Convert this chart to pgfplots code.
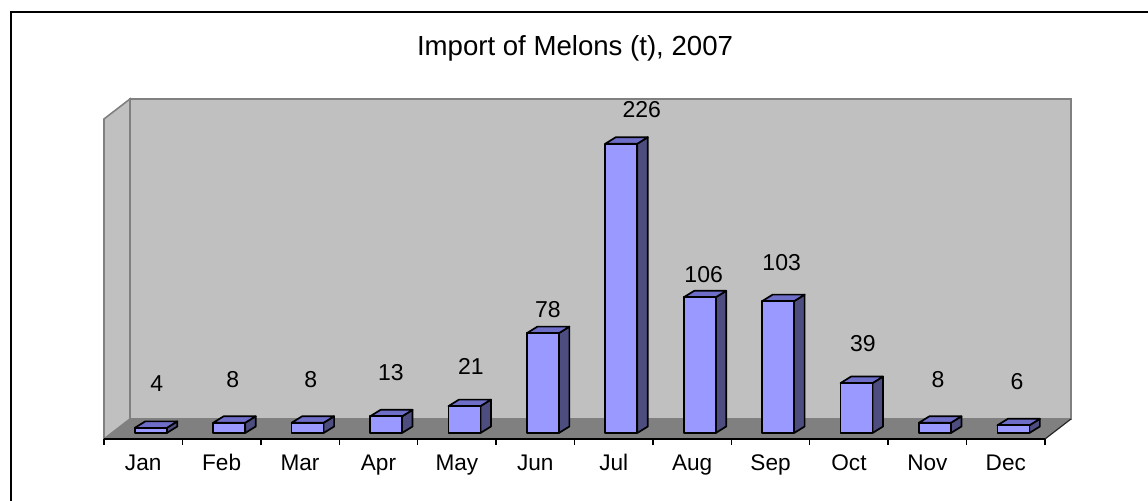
\documentclass[border=0pt]{standalone}
\usepackage{fontspec}
\setmainfont{Liberation Sans}
\usepackage{pgfplots}
\usepackage{pgfplotstable}
\pgfplotsset{compat=1.18}

\definecolor{barfront}{RGB}{153,153,255}
\definecolor{bartop}{RGB}{110,110,200}
\definecolor{barside}{RGB}{77,77,128}
\definecolor{wall}{RGB}{192,192,192}
\definecolor{walledge}{RGB}{128,128,128}
\definecolor{floorc}{RGB}{128,128,128}

% month, tonnes, where the value label sits
\pgfplotstableread{
m  v    lx     ly
1  4    1.172  43.0
2  8    2.141  46.1
3  8    3.136  46.1
4  13   4.160  51.6
5  21   5.180  57.0
6  78   6.162  100.8
7  226  7.357  257.0
8  106  8.147  128.1
9  103  9.142  137.5
10 39   10.179 74.2
11 8    11.135 46.1
12 6    12.142 44.5
}\melons

% box drawn from the top of the bar down, 0.64pt per tonne
\pgfdeclareplotmark{box3d}{%
  \pgfmathsetmacro\bb{3-\barval*0.64}%
  \pgfmathsetmacro\bs{6.25-\barval*0.64}%
  \path[fill=barside,draw=black,line width=0.85pt,line join=round]
    (11.8pt,\bb pt) -- (17.05pt,\bs pt) -- (17.05pt,6.25pt) -- (11.8pt,3pt) -- cycle;
  \path[fill=bartop,draw=black,line width=0.85pt,line join=round]
    (-4.2pt,3pt) -- (11.8pt,3pt) -- (17.05pt,6.25pt) -- (1.05pt,6.25pt) -- cycle;
  \path[fill=barfront,draw=black,line width=0.85pt,line join=round]
    (-4.2pt,\bb pt) rectangle (11.8pt,3pt);
}

\begin{document}
\begin{tikzpicture}
\begin{axis}[
  at={(0,0)}, anchor=south west,
  scale only axis, width=470.5pt, height=160pt,
  xmin=0.5, xmax=12.5, ymin=0, ymax=250,
  clip=false, axis on top,
  axis x line*=bottom, axis y line=none,
  x axis line style={black,line width=0.7pt},
  xtick={0.5,1.5,...,12.5},
  x tick label as interval,
  xticklabels={Jan,Feb,Mar,Apr,May,Jun,Jul,Aug,Sep,Oct,Nov,Dec},
  xtick style={black,line width=0.7pt},
  tick align=outside, major tick length=3pt,
  typeset ticklabels with strut,
  xticklabel style={font=\fontsize{11.3}{13}\selectfont},
]
% walls and floor
\fill[wall,draw=walledge,line width=0.8pt] (axis cs:0.5,0) -- (axis cs:0.5,250)
  -- ([shift={(13pt,10pt)}]axis cs:0.5,250) -- ([shift={(13pt,10pt)}]axis cs:0.5,0) -- cycle;
\fill[wall,draw=walledge,line width=0.8pt] ([shift={(13pt,10pt)}]axis cs:0.5,0)
  rectangle ([shift={(13pt,10pt)}]axis cs:12.5,250);
\fill[floorc] (axis cs:0.5,0) -- (axis cs:12.5,0)
  -- ([shift={(13pt,10pt)}]axis cs:12.5,0) -- ([shift={(13pt,10pt)}]axis cs:0.5,0) -- cycle;
\draw[black!85,line width=0.6pt] (axis cs:12.5,0) -- ([shift={(13pt,10pt)}]axis cs:12.5,0);

\addplot[only marks,mark=box3d,visualization depends on={rawy \as \barval}]
  table[x=m,y=v] {\melons};

\addplot[draw=none,mark=none,nodes near coords,point meta=explicit symbolic,
  every node near coord/.append style={anchor=center,font=\fontsize{11.5}{13}\selectfont,text=black}]
  table[x=lx,y=ly,meta=v] {\melons};
\end{axis}

\node[font=\fontsize{13.8}{16}\selectfont] at (235.5pt,195.5pt) {Import of Melons (t), 2007};
\draw[black,line width=0.75pt] (-46.5pt,-35pt) -- (-46.5pt,213.5pt) -- (525pt,213.5pt);

\pgfresetboundingbox
\path[use as bounding box] (-52pt,-31pt) rectangle (522pt,219.5pt);
\end{tikzpicture}
\end{document}
